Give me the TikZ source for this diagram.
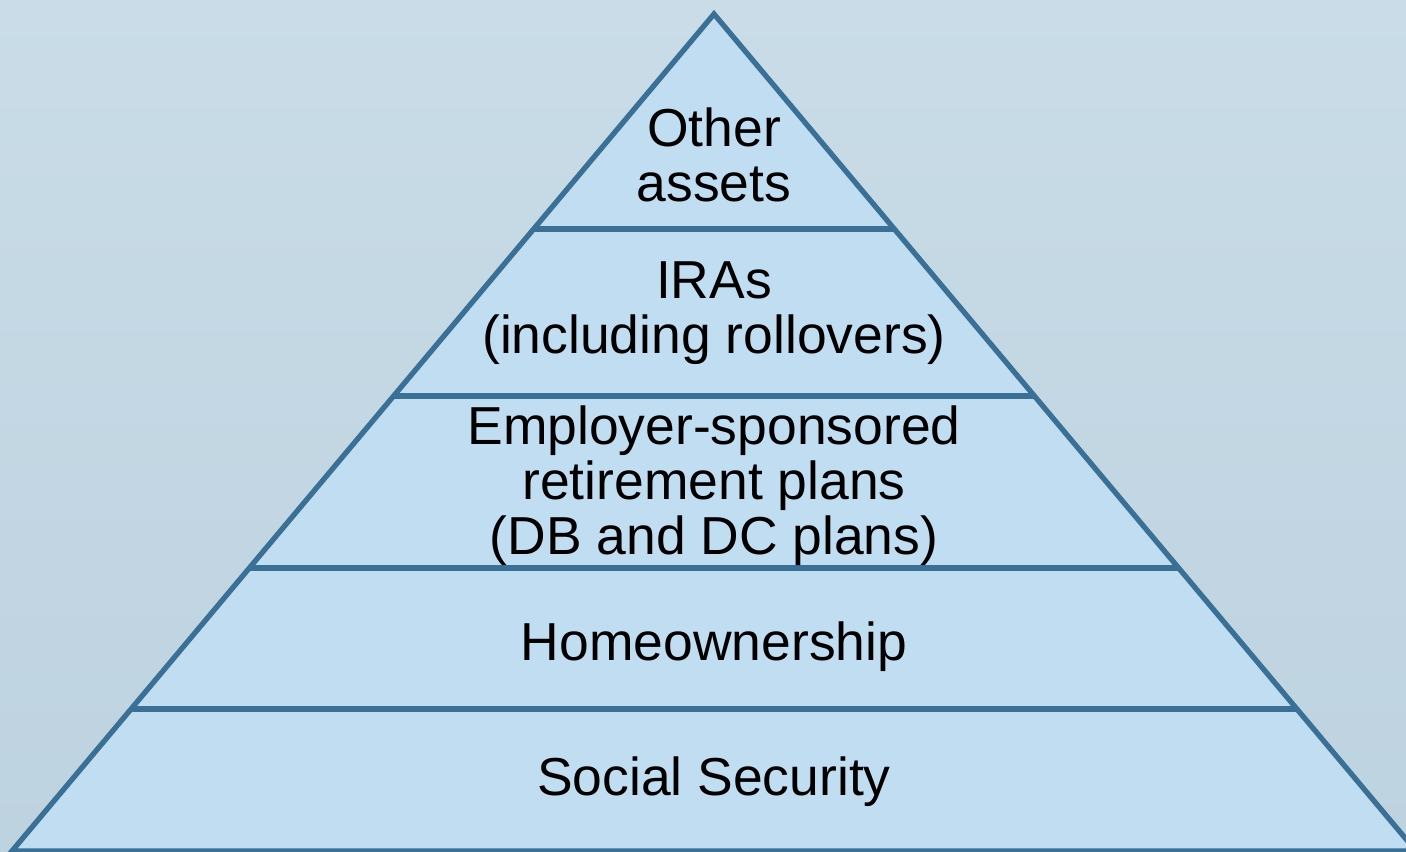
\documentclass[tikz,border=0pt]{standalone}
\usepackage{fontspec}
\setmainfont{Liberation Sans}
\usepackage{xcolor}
\usetikzlibrary{calc}

\definecolor{bgtop}{HTML}{C9DCE8}
\definecolor{bgbottom}{HTML}{BDD3DF}
\definecolor{pyrfill}{HTML}{C0DDF2}
\definecolor{pyredge}{HTML}{3A6F96}

\begin{document}
\begin{tikzpicture}[x=0.01cm, y=-0.01cm,
    edge/.style={draw=pyredge, line width=1.5pt},
    tier/.style={align=center, inner sep=0pt, font=\fontsize{15.2}{15.6}\selectfont}]
    \useasboundingbox (0,0) rectangle (1406,851);
    \clip (0,0) rectangle (1406,851);
    \shade[top color=bgtop, bottom color=bgbottom] (0,0) rectangle (1406,851);

    %corners
    \coordinate (apex) at (714,14);
    \coordinate (baseL) at (12,851);
    \coordinate (baseR) at (1416,851);
    \fill[pyrfill] (apex) -- (baseL) -- (baseR) -- cycle;

    %tier lines
    \foreach \y in {229,396,568,709} {
        \pgfmathsetmacro{\t}{(\y-14)/837}
        \draw[edge] ($(apex)!\t!(baseL)$) -- ($(apex)!\t!(baseR)$);
    }
    \draw[edge, line join=miter] (baseL) -- (apex) -- (baseR) -- cycle;

    %labels
    \node[tier] (other) at (714,155) {Other\\assets};
    \node[tier] (iras) at (714,313) {IRAs\\(including rollovers)};
    \node[tier] (employer) at (714,486) {Employer-sponsored\\retirement plans\\(DB and DC plans)};
    \node[tier] (home) at (714,647) {Homeownership};
    \node[tier] (social) at (714,782) {Social Security};
\end{tikzpicture}
\end{document}
